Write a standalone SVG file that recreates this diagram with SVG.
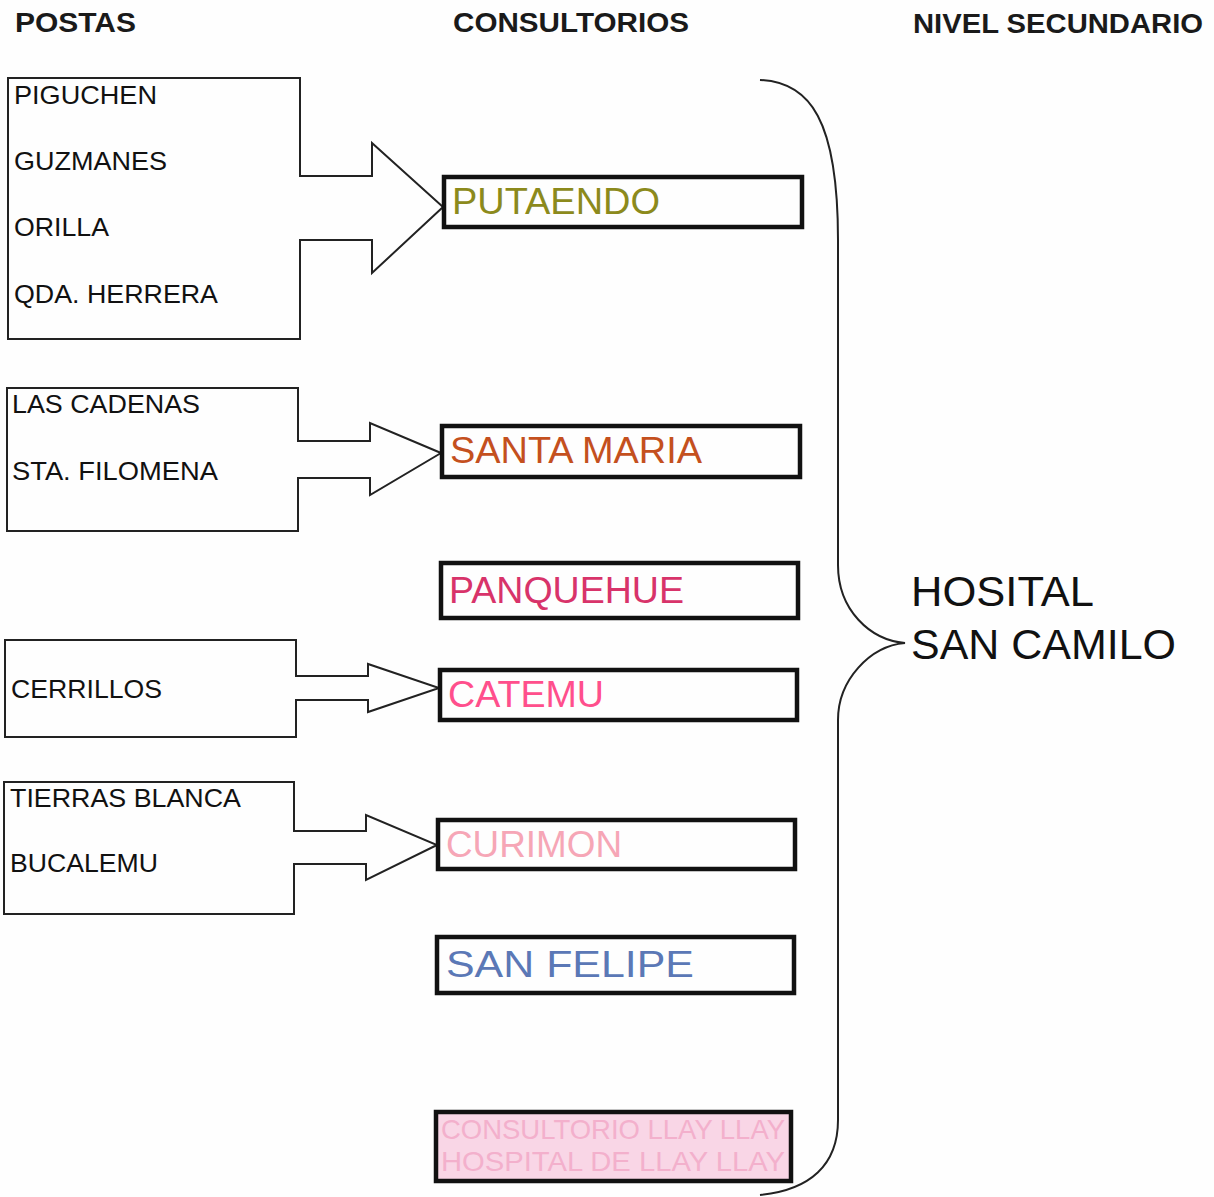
<svg xmlns="http://www.w3.org/2000/svg" width="1214" height="1197" viewBox="0 0 1214 1197">
<style>
text{font-family:"Liberation Sans",Arial,sans-serif}
.hdr{font-weight:bold;font-size:27px;fill:#1a1a1a}
.posta{font-size:25px;fill:#111}
.pbox{fill:none;stroke:#222;stroke-width:2}
.cbox{fill:none;stroke:#111;stroke-width:4.5}
.clab{font-size:37px}
.brace{fill:none;stroke:#222;stroke-width:2}
.hosp{font-size:43px;fill:#111}
.llay{font-size:28px;fill:#f3b0cc}
</style>
<rect width="1214" height="1197" fill="#fefefe"/>
<g id="headers">
<text class="hdr" x="15" y="32" textLength="121" lengthAdjust="spacingAndGlyphs">POSTAS</text>
<text class="hdr" x="453" y="32" textLength="236" lengthAdjust="spacingAndGlyphs">CONSULTORIOS</text>
<text class="hdr" x="913" y="33" textLength="290" lengthAdjust="spacingAndGlyphs">NIVEL SECUNDARIO</text>
</g>
<g id="postas1">
<path class="pbox" d="M8,78 H300 V176 H372 V143 L443,207 L372,273 V240 H300 V339 H8 Z"/>
<text class="posta" x="14" y="104" textLength="143" lengthAdjust="spacingAndGlyphs">PIGUCHEN</text>
<text class="posta" x="14" y="170" textLength="153" lengthAdjust="spacingAndGlyphs">GUZMANES</text>
<text class="posta" x="14" y="236" textLength="95" lengthAdjust="spacingAndGlyphs">ORILLA</text>
<text class="posta" x="14" y="303" textLength="204" lengthAdjust="spacingAndGlyphs">QDA. HERRERA</text>
</g>
<g id="postas2">
<path class="pbox" d="M7,388 H298 V441 H370 V423 L441,453 L370,495 V478 H298 V531 H7 Z"/>
<text class="posta" x="12" y="413" textLength="188" lengthAdjust="spacingAndGlyphs">LAS CADENAS</text>
<text class="posta" x="12" y="480" textLength="206" lengthAdjust="spacingAndGlyphs">STA. FILOMENA</text>
</g>
<g id="postas3">
<path class="pbox" d="M5,640 H296 V676 H368 V664 L439,688 L368,712 V700 H296 V737 H5 Z"/>
<text class="posta" x="11" y="698" textLength="151" lengthAdjust="spacingAndGlyphs">CERRILLOS</text>
</g>
<g id="postas4">
<path class="pbox" d="M4,782 H294 V831 H366 V815 L437,845 L366,880 V864 H294 V914 H4 Z"/>
<text class="posta" x="10" y="807" textLength="231" lengthAdjust="spacingAndGlyphs">TIERRAS BLANCA</text>
<text class="posta" x="10" y="872" textLength="148" lengthAdjust="spacingAndGlyphs">BUCALEMU</text>
</g>
<g id="putaendo">
<rect class="cbox" x="444" y="177" width="358" height="50"/>
<text class="clab" x="452" y="214" fill="#8c8a1c" textLength="208" lengthAdjust="spacingAndGlyphs">PUTAENDO</text>
</g>
<g id="santamaria">
<rect class="cbox" x="442" y="426" width="358" height="51"/>
<text class="clab" x="450" y="463" fill="#c4501e" textLength="252" lengthAdjust="spacingAndGlyphs">SANTA MARIA</text>
</g>
<g id="panquehue">
<rect class="cbox" x="441" y="563" width="357" height="55"/>
<text class="clab" x="449" y="603" fill="#d8336a" textLength="235" lengthAdjust="spacingAndGlyphs">PANQUEHUE</text>
</g>
<g id="catemu">
<rect class="cbox" x="440" y="670" width="357" height="50"/>
<text class="clab" x="448" y="707" fill="#ff4f8c" textLength="156" lengthAdjust="spacingAndGlyphs">CATEMU</text>
</g>
<g id="curimon">
<rect class="cbox" x="438" y="820" width="357" height="49"/>
<text class="clab" x="446" y="857" fill="#f6a6b6" textLength="176" lengthAdjust="spacingAndGlyphs">CURIMON</text>
</g>
<g id="sanfelipe">
<rect class="cbox" x="437" y="937" width="357" height="56"/>
<text class="clab" x="446" y="977" fill="#5b78b6" textLength="248" lengthAdjust="spacingAndGlyphs">SAN FELIPE</text>
</g>
<g id="llayllay">
<rect x="436" y="1112" width="355" height="69" fill="#f9d6e6"/>
<rect class="cbox" x="436" y="1112" width="355" height="69"/>
<text class="llay" x="441" y="1139" textLength="344" lengthAdjust="spacingAndGlyphs">CONSULTORIO LLAY LLAY</text>
<text class="llay" x="441" y="1171" textLength="344" lengthAdjust="spacingAndGlyphs">HOSPITAL DE LLAY LLAY</text>
</g>
<g id="connectors">
<path class="brace" d="M760,80 C810,82 838,120 838,240 V565 C838,610 870,640 905,643 C870,646 838,680 838,720 V1120 C838,1165 810,1190 760,1195"/>
</g>
<g id="hospital">
<text class="hosp" x="911" y="606" textLength="183" lengthAdjust="spacingAndGlyphs">HOSITAL</text>
<text class="hosp" x="911" y="659" textLength="265" lengthAdjust="spacingAndGlyphs">SAN CAMILO</text>
</g>
</svg>
